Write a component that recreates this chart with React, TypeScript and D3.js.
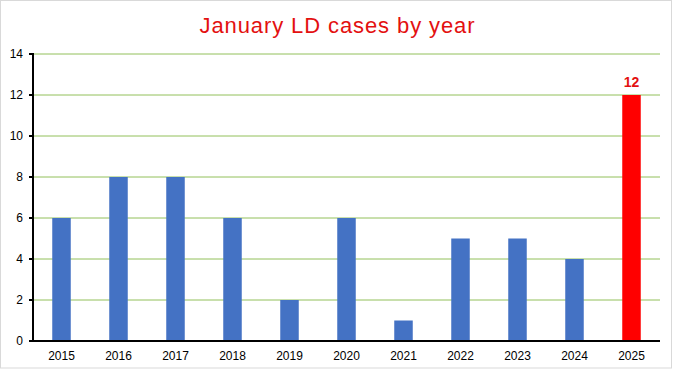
import React from "react";
import * as d3 from "d3";

const years = ["2015","2016","2017","2018","2019","2020","2021","2022","2023","2024","2025"];
const cases = [6, 8, 8, 6, 2, 6, 1, 5, 5, 4, 12];
const yTicks = [0, 2, 4, 6, 8, 10, 12, 14];
const highlightYear = "2025";

export default function App() {
  const W = 675, H = 371;
  const left = 33, right = 660, top = 54, bottom = 341;
  const x = d3.scaleBand<string>().domain(years).range([left, right]).paddingInner(0).paddingOuter(0);
  const y = d3.scaleLinear().domain([0, 14]).range([bottom, top]);
  const barW = 18.5;
  const font = "Arial, 'Liberation Sans', sans-serif";
  return (
    <svg width={W} height={H} style={{ position: "absolute", left: 0, top: 0, background: "#fff" }} fontFamily={font}>
      <rect x={0.5} y={0.5} width={671} height={367.5} fill="#fff" stroke="#d9d9d9" strokeWidth={1} />
      <text x={337.5} y={33} textAnchor="middle" fontSize={22} letterSpacing={0.9} fill="#e31010">January LD cases by year</text>
      {yTicks.filter(t => t > 0).map(t => (
        <line key={"g" + t} x1={left} x2={right} y1={y(t)} y2={y(t)} stroke="#92c05a" strokeWidth={1} />
      ))}
      {years.map((yr, i) => {
        const cx = (x(yr) as number) + x.bandwidth() / 2;
        const isHi = yr === highlightYear;
        return (
          <g key={yr}>
            <rect x={cx - barW / 2} y={y(cases[i])} width={barW} height={bottom - y(cases[i])} fill={isHi ? "#ff0000" : "#4472c4"} />
            {isHi && (
              <text x={cx} y={y(cases[i]) - 8} textAnchor="middle" fontSize={14} fontWeight="bold" fill="#e31010">{cases[i]}</text>
            )}
            <text x={cx} y={360} textAnchor="middle" fontSize={12} fill="#000">{yr}</text>
          </g>
        );
      })}
      {yTicks.map(t => (
        <g key={"t" + t}>
          <line x1={left - 4} x2={left} y1={y(t)} y2={y(t)} stroke="#000" strokeWidth={2} />
          <text x={23} y={y(t) + 4} textAnchor="end" fontSize={12} fill="#000">{t}</text>
        </g>
      ))}
      <line x1={left} x2={left} y1={top - 1} y2={bottom + 1} stroke="#000" strokeWidth={2} />
      <line x1={left - 1} x2={right} y1={bottom} y2={bottom} stroke="#000" strokeWidth={2} />
    </svg>
  );
}
